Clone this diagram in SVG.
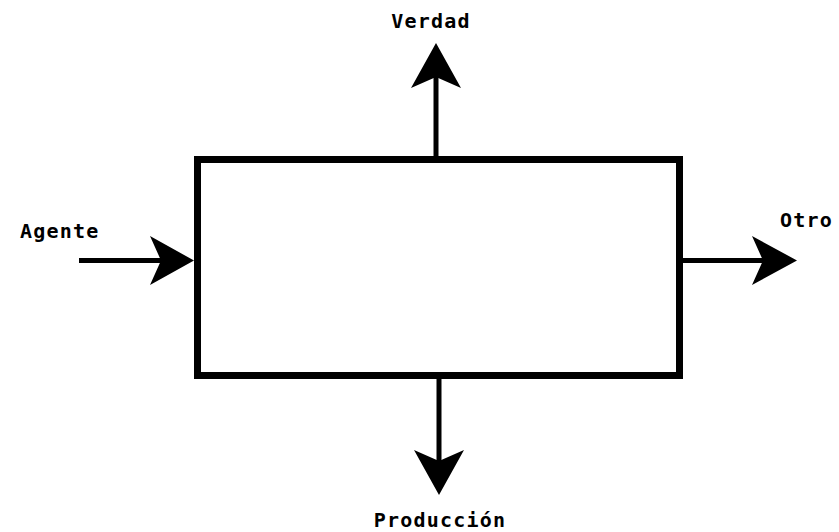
<svg xmlns="http://www.w3.org/2000/svg" width="839" height="532" viewBox="0 0 839 532">
  <style>
    .lbl { font-family: "DejaVu Sans Mono", "Liberation Mono", monospace; font-size: 20px; font-weight: bold; fill: #000; letter-spacing: 1.2px; }
    .shaft { stroke: #000; stroke-width: 5; fill: none; }
    .head { fill: #000; stroke: none; }
    .box { fill: #fff; stroke: #000; stroke-width: 7; }
  </style>
  <rect width="839" height="532" fill="#fff"/>

  <g id="proceso">
    <rect class="box" x="197.5" y="159.5" width="482" height="216"/>
  </g>

  <g id="conectores">
    <!-- input from Agente -->
    <line class="shaft" x1="79" y1="260.5" x2="180" y2="260.5"/>
    <polygon class="head" points="194,260.5 150,236 161,260.5 150,285"/>
    <!-- output to Verdad -->
    <line class="shaft" x1="436" y1="156" x2="436" y2="70"/>
    <polygon class="head" points="436,43 461,88 436,77 411,88"/>
    <!-- output to Otro -->
    <line class="shaft" x1="683" y1="260.5" x2="780" y2="260.5"/>
    <polygon class="head" points="797,260.5 752,236 763,260.5 752,285"/>
    <!-- output to Producción -->
    <line class="shaft" x1="439" y1="379" x2="439" y2="470"/>
    <polygon class="head" points="439,495 414,450 439,461 464,450"/>
  </g>

  <g id="etiquetas">
    <text class="lbl" x="431" y="28" text-anchor="middle">Verdad</text>
    <text class="lbl" x="20" y="238">Agente</text>
    <text class="lbl" x="780" y="227">Otro</text>
    <text class="lbl" x="440" y="527" text-anchor="middle">Producción</text>
  </g>
</svg>
